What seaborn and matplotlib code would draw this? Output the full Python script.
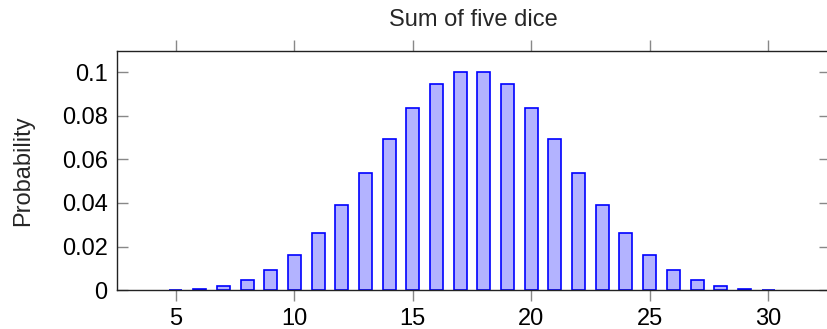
import matplotlib
matplotlib.use('Agg')
import matplotlib.pyplot as plt
import seaborn as sns

# Sum of five dice
sums = [5, 6, 7, 8, 9, 10, 11, 12, 13, 14, 15, 16, 17,
        18, 19, 20, 21, 22, 23, 24, 25, 26, 27, 28, 29, 30]
probs = [0.0001, 0.0006, 0.0019, 0.0045, 0.0090, 0.0162, 0.0264, 0.0392, 0.0540,
         0.0694, 0.0837, 0.0945, 0.1003, 0.1003, 0.0945, 0.0837, 0.0694, 0.0540,
         0.0392, 0.0264, 0.0162, 0.0090, 0.0045, 0.0019, 0.0006, 0.0001]
xticks = [5, 10, 15, 20, 25, 30]
yticks = [0, 0.02, 0.04, 0.06, 0.08, 0.1]
ytick_labels = ['0', '0.02', '0.04', '0.06', '0.08', '0.1']

sns.set_style('white')
plt.rcParams['font.family'] = ['Liberation Sans', 'DejaVu Sans']

fig = plt.figure(figsize=(8.28, 3.29), dpi=100)
ax = fig.add_axes([0.141, 0.1185, 0.861, 0.7274])

sns.barplot(x=sums, y=probs, native_scale=True, width=0.55, color='#b3b3ff',
            saturation=1, edgecolor='#0000ff', linewidth=1.2, ax=ax)

ax.set_xlim(2.5, 32.6)
ax.set_ylim(0, 0.11)
ax.set_xticks(xticks)
ax.set_xticklabels([str(t) for t in xticks])
ax.set_yticks(yticks)
ax.set_yticklabels(ytick_labels)

for s in ax.spines.values():
    s.set_color('#222222')
    s.set_linewidth(1)

ax.tick_params(axis='x', direction='out', top=True, bottom=True, length=8,
               width=1, color='#888888', labelsize=17, pad=5, labelcolor='black')
ax.tick_params(axis='y', direction='in', left=True, right=True, length=8,
               width=1, color='#888888', labelsize=17, pad=6.5, labelcolor='black')

ax.set_xlabel('')
ax.set_ylabel('Probability', fontsize=17, labelpad=20)
ax.text(0.5, 1.103, 'Sum of five dice', transform=ax.transAxes,
        ha='center', va='baseline', fontsize=17)

fig.savefig('out.png', dpi=100)
